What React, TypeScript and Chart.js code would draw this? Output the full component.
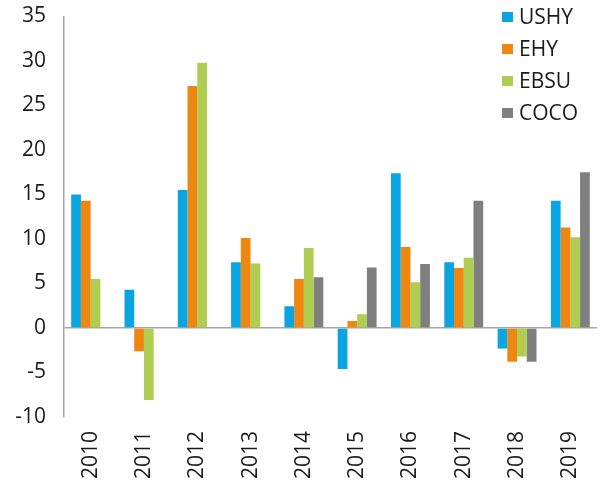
import React, { useEffect, useRef } from "react";
import { Chart, registerables } from "chart.js";

Chart.register(...registerables);

const years = ["2010", "2011", "2012", "2013", "2014", "2015", "2016", "2017", "2018", "2019"];
const ushy = [15.0, 4.3, 15.5, 7.4, 2.45, -4.6, 17.4, 7.4, -2.3, 14.3];
const ehy = [14.3, -2.6, 27.2, 10.1, 5.5, 0.8, 9.1, 6.75, -3.8, 11.3];
const ebsu = [5.5, -8.1, 29.8, 7.25, 9.0, 1.55, 5.15, 7.9, -3.2, 10.2];
const coco = [null, null, null, null, 5.7, 6.8, 7.2, 14.3, -3.8, 17.5];
const seriesNames = ["USHY", "EHY", "EBSU", "COCO"];
const seriesColors = ["#0aa5e0", "#ee860f", "#afcd50", "#7f7f7f"];

const FONT = "'Open Sans', 'DejaVu Sans', sans-serif";

const legendPlugin = {
  id: "customLegend",
  afterDraw(chart: any) {
    const ctx = chart.ctx;
    ctx.save();
    const x0 = 502;
    const y0 = 17;
    const gap = 32;
    chart.data.datasets.forEach((ds: any, i: number) => {
      const cy = y0 + i * gap;
      ctx.fillStyle = ds.backgroundColor;
      ctx.fillRect(x0, cy - 5, 11, 10);
      ctx.fillStyle = "#1a1a1a";
      ctx.font = `21px ${FONT}`;
      ctx.textBaseline = "middle";
      ctx.textAlign = "left";
      ctx.fillText(ds.label, x0 + 17, cy + 1);
    });
    ctx.restore();
  },
};

export default function App() {
  const ref = useRef<HTMLCanvasElement>(null);
  useEffect(() => {
    if (!ref.current) return;
    const values = [ushy, ehy, ebsu, coco];
    const chart = new Chart(ref.current, {
      type: "bar",
      data: {
        labels: years,
        datasets: seriesNames.map((name, i) => ({
          label: name,
          data: values[i] as any,
          backgroundColor: seriesColors[i],
          categoryPercentage: 0.73,
          barPercentage: 1,
        })),
      },
      options: {
        animation: false,
        responsive: false,
        layout: { padding: { top: 16.5, right: 3, left: 0, bottom: 0 } },
        plugins: { legend: { display: false }, tooltip: { enabled: false } },
        scales: {
          x: {
            grid: { display: false, drawTicks: false },
            border: { display: false },
            ticks: {
              minRotation: 90,
              maxRotation: 90,
              padding: 14,
              color: "#1a1a1a",
              font: { family: FONT, size: 21 },
            },
            afterFit(scale: any) {
              scale.height = 79;
              scale.paddingLeft = 0;
              scale.paddingRight = 0;
            },
          },
          y: {
            min: -10,
            max: 35,
            ticks: {
              stepSize: 5,
              padding: 18,
              color: "#1a1a1a",
              font: { family: FONT, size: 21 },
            },
            grid: {
              drawTicks: false,
              lineWidth: 1.5,
              color: (c: any) => (c.tick && c.tick.value === 0 ? "#a6a6a6" : "rgba(0,0,0,0)"),
            },
            border: { display: true, color: "#a6a6a6", width: 1.5 },
            afterFit(scale: any) {
              scale.width = 64;
              scale.paddingTop = 0;
              scale.paddingBottom = 0;
            },
          },
        },
      },
      plugins: [legendPlugin],
    });
    return () => chart.destroy();
  }, []);
  return (
    <div style={{ position: "fixed", left: 0, top: 0, width: 600, height: 496, background: "#fff" }}>
      <canvas ref={ref} width={600} height={496} style={{ width: 600, height: 496 }} />
    </div>
  );
}
